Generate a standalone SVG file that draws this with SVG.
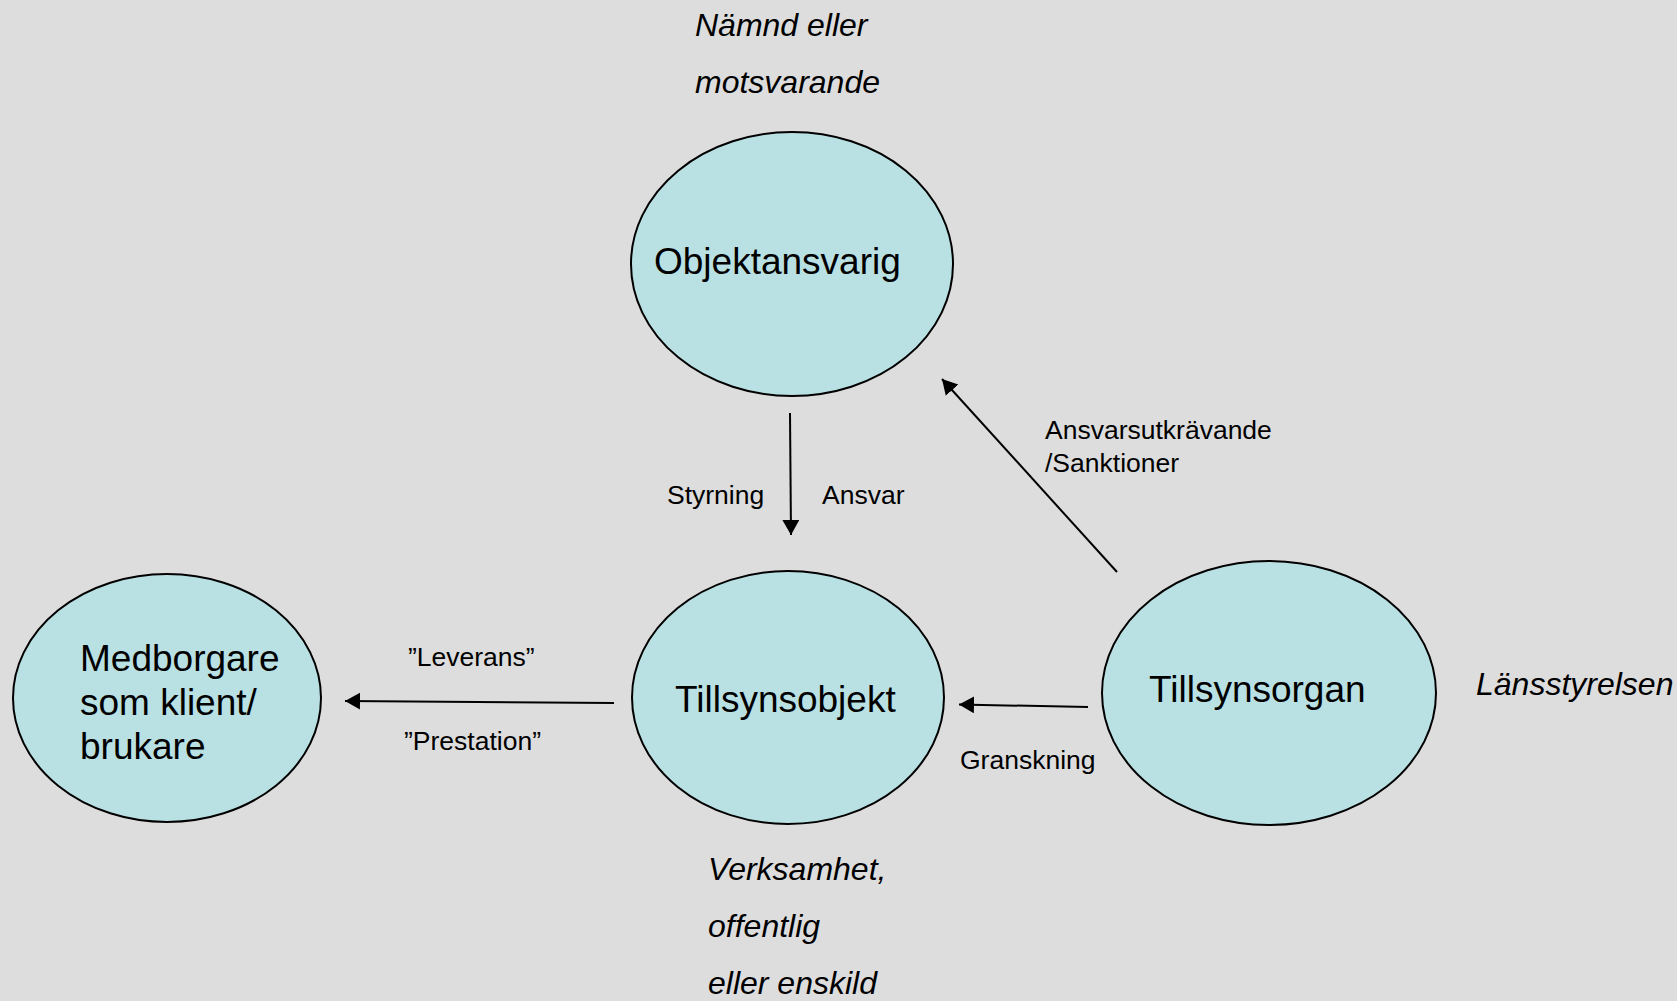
<svg xmlns="http://www.w3.org/2000/svg" width="1677" height="1001" viewBox="0 0 1677 1001">
  <defs>
    <style>
      .node { fill: #B9E0E3; stroke: #000000; stroke-width: 2; }
      .title { font-family: "Liberation Sans", Arial, sans-serif; font-size: 37px; fill: #000000; }
      .note { font-family: "Liberation Sans", Arial, sans-serif; font-size: 32px; font-style: italic; fill: #000000; }
      .label { font-family: "Liberation Sans", Arial, sans-serif; font-size: 26.5px; fill: #000000; }
      .edge { stroke: #000000; stroke-width: 2; fill: none; marker-end: url(#arrow); }
    </style>
    <marker id="arrow" markerUnits="userSpaceOnUse" markerWidth="16" markerHeight="18" refX="15" refY="8.5" orient="auto">
      <path d="M0,0 L15,8.5 L0,17 z" fill="#000000"/>
    </marker>
  </defs>

  <rect width="1677" height="1001" fill="#DDDDDD"/>

  <!-- annotations beside the nodes -->
  <g id="annotations">
    <text class="note" x="695" y="36">Nämnd eller</text>
    <text class="note" x="695" y="93">motsvarande</text>
    <text class="note" x="1476" y="695">Länsstyrelsen</text>
    <text class="note" x="708" y="880">Verksamhet,</text>
    <text class="note" x="708" y="937">offentlig</text>
    <text class="note" x="708" y="994">eller enskild</text>
  </g>

  <g id="node-objektansvarig">
    <ellipse class="node" cx="792" cy="264" rx="161" ry="132"/>
    <text class="title" x="654" y="274">Objektansvarig</text>
  </g>

  <g id="node-tillsynsobjekt">
    <ellipse class="node" cx="788" cy="697.5" rx="156" ry="126.5"/>
    <text class="title" x="675" y="712">Tillsynsobjekt</text>
  </g>

  <g id="node-medborgare">
    <ellipse class="node" cx="167" cy="698" rx="154" ry="124"/>
    <text class="title" x="80" y="671">Medborgare</text>
    <text class="title" x="80" y="715">som klient/</text>
    <text class="title" x="80" y="759">brukare</text>
  </g>

  <g id="node-tillsynsorgan">
    <ellipse class="node" cx="1269" cy="693" rx="167" ry="132"/>
    <text class="title" x="1149" y="702">Tillsynsorgan</text>
  </g>

  <g id="connectors">
    <line class="edge" x1="790" y1="413" x2="791" y2="535"/>
    <line class="edge" x1="1117" y1="572" x2="942" y2="379"/>
    <line class="edge" x1="614" y1="703" x2="345" y2="701"/>
    <line class="edge" x1="1088" y1="707" x2="959" y2="704.5"/>
    <text class="label" x="667" y="504">Styrning</text>
    <text class="label" x="822" y="504">Ansvar</text>
    <text class="label" x="1045" y="439">Ansvarsutkrävande</text>
    <text class="label" x="1045" y="472">/Sanktioner</text>
    <text class="label" x="408" y="666">”Leverans”</text>
    <text class="label" x="404" y="750">”Prestation”</text>
    <text class="label" x="960" y="769">Granskning</text>
  </g>
</svg>
